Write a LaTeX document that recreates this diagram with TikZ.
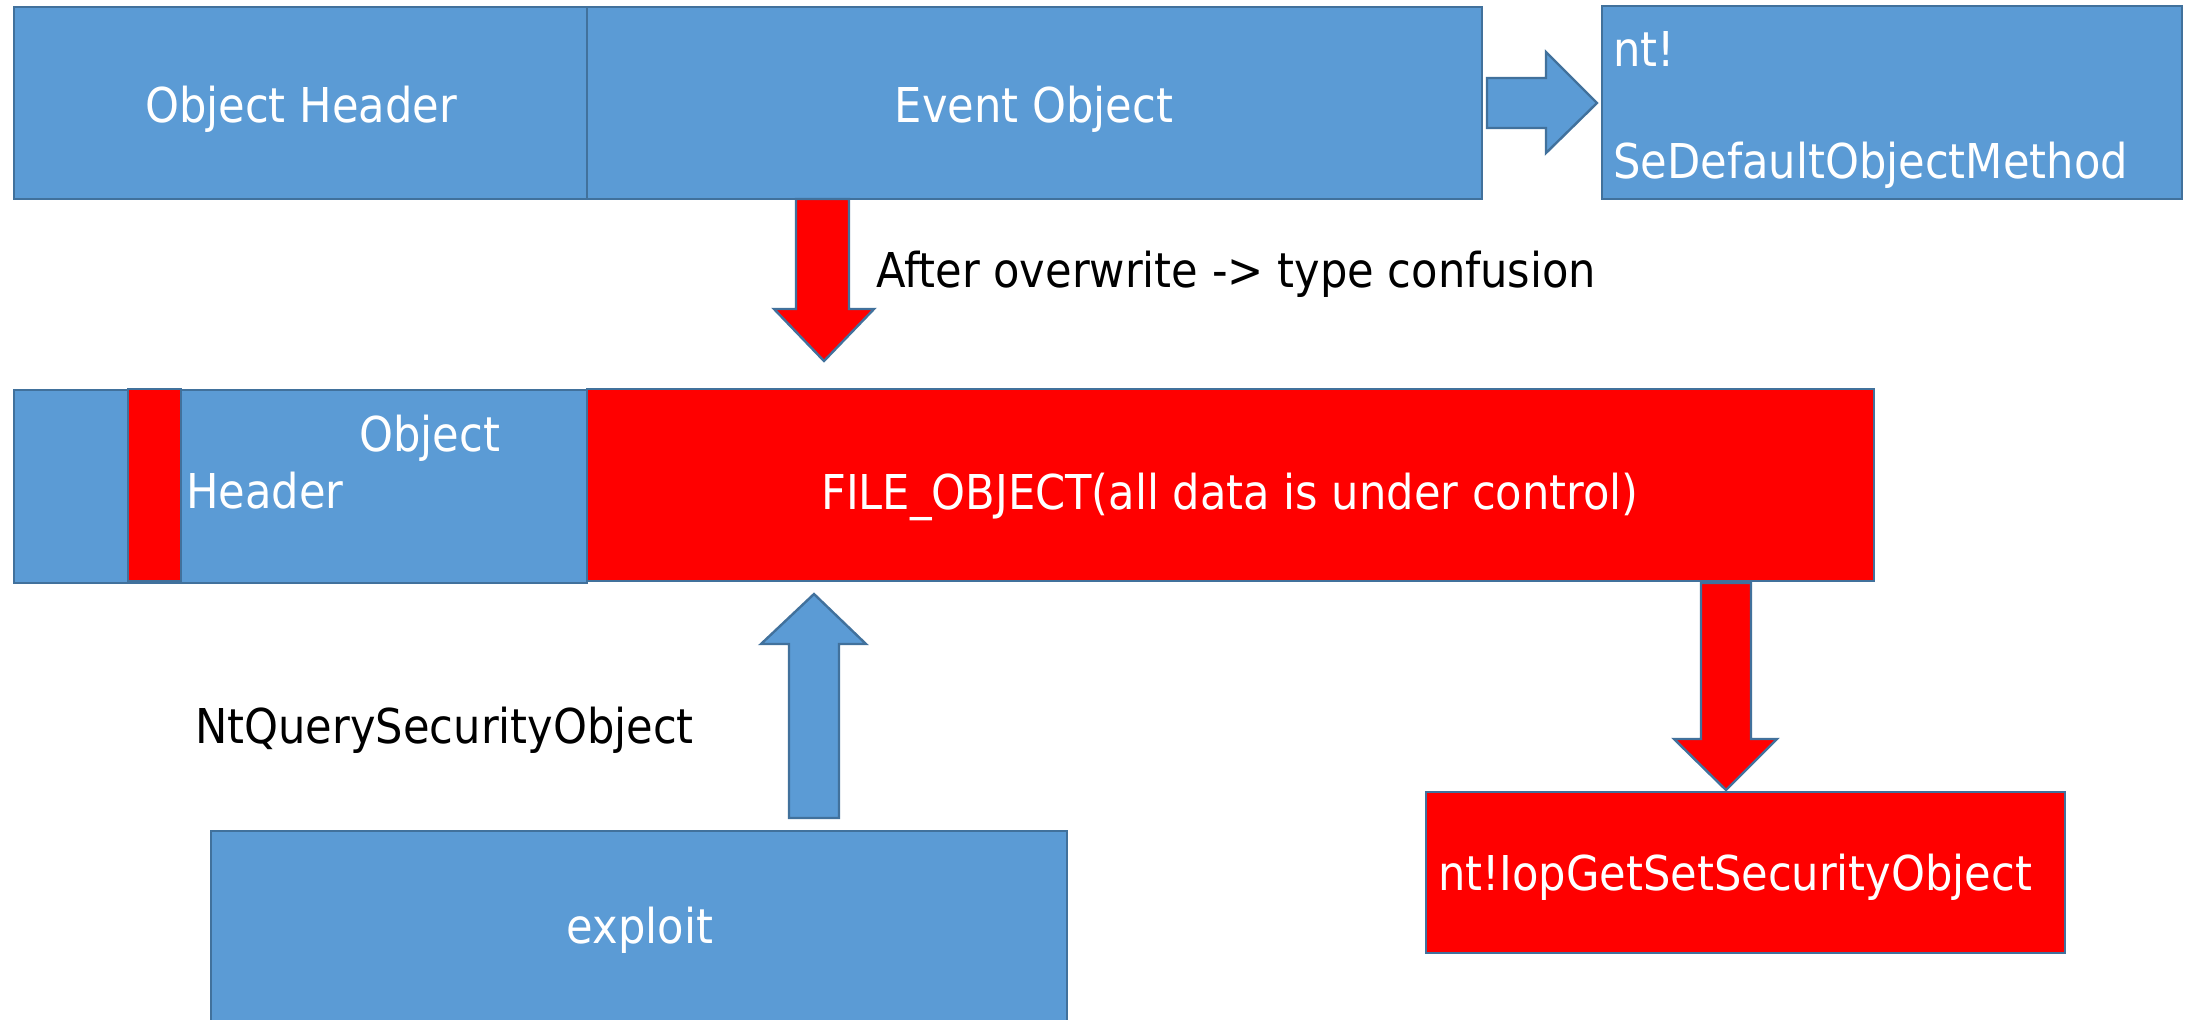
\documentclass[tikz,border=0pt]{standalone}
\usepackage{fontspec}
\setmainfont{DejaVu Sans Condensed}
\definecolor{pblue}{HTML}{5B9BD5}
\definecolor{pedge}{HTML}{41719C}
\definecolor{pred}{HTML}{FF0000}
\begin{document}
\begin{tikzpicture}[x=0.5pt,y=-0.5pt,
  box/.style={draw=pedge,line width=1.2pt,fill=pblue,inner sep=0pt,outer sep=0pt},
  redbox/.style={box,fill=pred},
  blk/.style={draw=pedge,line width=1.2pt,fill=pblue,line join=miter},
  redblk/.style={blk,fill=pred},
  wtxt/.style={text=white,inner sep=0pt,font=\fontsize{24}{29}\selectfont},
  ktxt/.style={text=black,inner sep=0pt,font=\fontsize{24}{29}\selectfont}]
\clip (0,0) rectangle (2186,1019);
\fill[white] (0,0) rectangle (2186,1019);
% top row
\node[box,minimum width=286.5pt,minimum height=96pt] (oh1) at (300.5,103) {};
\node[box,minimum width=447.5pt,minimum height=96pt] (eo) at (1034.5,103) {};
\node[box,minimum width=290pt,minimum height=96.5pt] (nt) at (1892,102.5) {};
\node[wtxt,anchor=base] (oh1t) at (301,122) {Object Header};
\node[wtxt,anchor=base] (eot) at (1034,122) {Event Object};
\node[wtxt,anchor=base west] (ntt1) at (1613,66) {nt!};
\node[wtxt,anchor=base west] (ntt2) at (1613,178) {SeDefaultObjectMethod};
% right block arrow eo -> nt
\draw[blk] (1487,78) -- (1546,78) -- (1546,52) -- (1597,103) -- (1546,153) -- (1546,128) -- (1487,128) -- cycle;
% middle row
\node[box,minimum width=286.5pt,minimum height=96.5pt] (oh2) at (300.5,486.5) {};
\node[redbox,minimum width=26.5pt,minimum height=96pt] (strip) at (154.5,485) {};
\node[redbox,minimum width=643.5pt,minimum height=96pt] (file) at (1230.5,485) {};
\node[wtxt,anchor=base west] (oh2t1) at (359,451) {Object};
\node[wtxt,anchor=base west] (oh2t2) at (186,508) {Header};
\node[wtxt,anchor=base] (filet) at (1230,509) {FILE\_OBJECT(all data is under control)};
% down arrow eo -> file
\draw[redblk] (796,199) -- (849,199) -- (849,309) -- (874,309) -- (824,361) -- (774,309) -- (796,309) -- cycle;
\node[ktxt,anchor=base west] (aftt) at (876,287) {After overwrite -> type confusion};
% bottom
\node[box,minimum width=428pt,minimum height=97pt] (exploit) at (639,928) {};
\node[wtxt,anchor=base] (exploitt) at (640,943) {exploit};
\node[redbox,minimum width=319.5pt,minimum height=80.5pt] (iop) at (1745.5,872.5) {};
\node[wtxt,anchor=base] (iopt) at (1735,890) {nt!IopGetSetSecurityObject};
% up arrow exploit -> file
\draw[blk] (789,818) -- (839,818) -- (839,644) -- (866,644) -- (814,594) -- (761,644) -- (789,644) -- cycle;
\node[ktxt,anchor=base west] (ntq) at (195,743) {NtQuerySecurityObject};
% down arrow file -> iop
\draw[redblk] (1701,583) -- (1751,583) -- (1751,739) -- (1777,739) -- (1726,790) -- (1674,739) -- (1701,739) -- cycle;
\end{tikzpicture}
\end{document}
